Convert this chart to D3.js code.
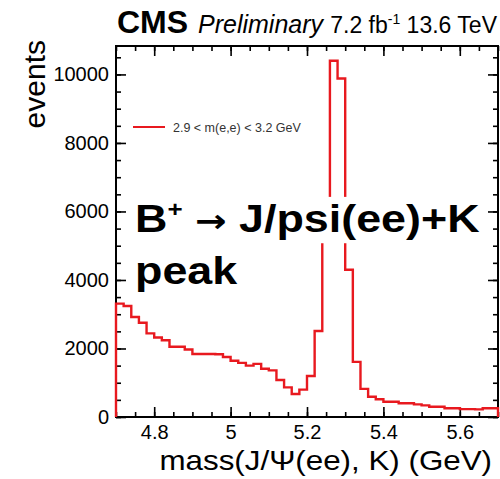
<!DOCTYPE html>
<html><head><meta charset="utf-8">
<script src="https://cdn.jsdelivr.net/npm/d3@7"></script>
<style>
body{margin:0;background:#fff}
svg{display:block}
text{font-family:"Liberation Sans",Arial,Helvetica,sans-serif}
</style>
</head><body>
<svg id="chart" width="500" height="479"></svg>
<script>
// ---- data ----
const binLowEdges = [4.70,4.72,4.74,4.76,4.78,4.80,4.82,4.84,4.86,4.88,
                     4.90,4.92,4.94,4.96,4.98,5.00,5.02,5.04,5.06,5.08,
                     5.10,5.12,5.14,5.16,5.18,5.20,5.22,5.24,5.26,5.28,
                     5.30,5.32,5.34,5.36,5.38,5.40,5.42,5.44,5.46,5.48,
                     5.50,5.52,5.54,5.56,5.58,5.60,5.62,5.64,5.66,5.68];
const binWidth = 0.02;
const counts = [3310,3240,2920,2750,2440,2320,2240,2050,2050,1970,
                1840,1840,1840,1830,1750,1640,1580,1500,1550,1410,
                1360,1080,866,670,800,1195,2510,5600,10400,9880,
                4300,1610,820,590,516,446,446,400,400,370,
                340,300,300,254,254,230,230,224,254,254];
const xTickValues = [4.8,5.0,5.2,5.4,5.6];
const xTickLabels = ["4.8","5","5.2","5.4","5.6"];
const yTickValues = [0,2000,4000,6000,8000,10000];
const yTickLabels = ["0","2000","4000","6000","8000","10000"];
const legendLabel = "2.9 < m(e,e) < 3.2 GeV";
const xTitle = "mass(J/\u03A8(ee), K) (GeV)";
const yTitle = "events";

// ---- layout ----
const L = 116, R = 498, T = 46, B = 417;
const svg = d3.select("#chart");
const x = d3.scaleLinear().domain([4.7, 5.7]).range([L, R]);
const y = d3.scaleLinear().domain([0, 10830]).range([B, T]);
const red = "#e8191f";

// frame
svg.append("rect").attr("x", L).attr("y", T).attr("width", R - L).attr("height", B - T)
  .attr("fill", "none").attr("stroke", "#000").attr("stroke-width", 2);

function styleAxis(g){
  g.select(".domain").remove();
  g.selectAll(".tick line").attr("stroke", "#000").attr("stroke-width", 1.6);
  g.selectAll("text").attr("fill", "#000").style("font-size", "20px")
    .style("font-family", '"Liberation Sans",Arial,sans-serif');
}

const xMinor = x.ticks(20), yMinor = y.ticks(20);
// bottom axis
svg.append("g").attr("transform", `translate(0,${B})`)
  .call(d3.axisBottom(x).tickValues(xMinor).tickSize(-5).tickFormat(""))
  .call(styleAxis);
svg.append("g").attr("transform", `translate(0,${B})`)
  .call(d3.axisBottom(x).tickValues(xTickValues).tickSize(-10).tickPadding(8)
        .tickFormat((d,i) => xTickLabels[i]))
  .call(styleAxis);
// top axis
svg.append("g").attr("transform", `translate(0,${T})`)
  .call(d3.axisTop(x).tickValues(xMinor).tickSize(-5).tickFormat(""))
  .call(styleAxis);
svg.append("g").attr("transform", `translate(0,${T})`)
  .call(d3.axisTop(x).tickValues(xTickValues).tickSize(-10).tickFormat(""))
  .call(styleAxis);
// left axis
svg.append("g").attr("transform", `translate(${L},0)`)
  .call(d3.axisLeft(y).tickValues(yMinor).tickSize(-5).tickFormat(""))
  .call(styleAxis);
svg.append("g").attr("transform", `translate(${L},0)`)
  .call(d3.axisLeft(y).tickValues(yTickValues).tickSize(-10).tickPadding(7)
        .tickFormat((d,i) => yTickLabels[i]))
  .call(styleAxis);
// right axis
svg.append("g").attr("transform", `translate(${R},0)`)
  .call(d3.axisRight(y).tickValues(yMinor).tickSize(-5).tickFormat(""))
  .call(styleAxis);
svg.append("g").attr("transform", `translate(${R},0)`)
  .call(d3.axisRight(y).tickValues(yTickValues).tickSize(-10).tickFormat(""))
  .call(styleAxis);

// histogram outline
const pts = [[binLowEdges[0], 0]];
binLowEdges.forEach((lo, i) => { pts.push([lo, counts[i]]); pts.push([lo + binWidth, counts[i]]); });
pts.push([binLowEdges[binLowEdges.length - 1] + binWidth, 0]);
svg.append("path").datum(pts)
  .attr("d", d3.line().x(d => x(d[0])).y(d => y(d[1])))
  .attr("fill", "none").attr("stroke", red).attr("stroke-width", 2.4)
  .attr("stroke-linejoin", "miter");

// legend
svg.append("line").attr("x1", 133).attr("x2", 165).attr("y1", 127).attr("y2", 127)
  .attr("stroke", red).attr("stroke-width", 2);
svg.append("text").attr("x", 173).attr("y", 131.5).attr("fill", "#333")
  .style("font-size", "12.5px").text(legendLabel);

// header
const hdr = svg.append("text").attr("x", 117).attr("y", 33);
hdr.append("tspan").style("font-weight", "bold").style("font-size", "32px").text("CMS");
svg.append("text").attr("x", 198).attr("y", 33).style("font-style", "italic")
  .style("font-size", "25px").text("Preliminary");
const lumi = svg.append("text").attr("x", 497).attr("y", 33).attr("text-anchor", "end")
  .style("font-size", "23px");
lumi.append("tspan").text("7.2 fb");
lumi.append("tspan").attr("dy", -9).style("font-size", "14px").text("-1");
lumi.append("tspan").attr("dy", 9).text(" 13.6 TeV");

// axis titles
svg.append("text").attr("transform", "translate(45,40) rotate(-90)")
  .attr("text-anchor", "end").style("font-size", "30px").text(yTitle);
svg.append("text").attr("transform", "translate(492,470) scale(1.1,1)")
  .attr("text-anchor", "end").style("font-size", "28.5px").text(xTitle);

// annotation with white background (text drawn horizontally widened as in the reference)
const ann = svg.append("g").attr("transform", "translate(135,0) scale(1.18,1)");
const bg = ann.append("rect").attr("fill", "#fff");
const line1 = ann.append("text").attr("x", 0).attr("y", 232)
  .style("font-weight", "bold").style("font-size", "38px").attr("fill", "#000");
line1.append("tspan").text("B");
line1.append("tspan").attr("dy", -15).style("font-size", "22px").text("+");
line1.append("tspan").attr("dy", 15).text(" ");
line1.append("tspan").style("font-family", '"DejaVu Sans",sans-serif').style("font-size", "32px").text("\u2192");
line1.append("tspan").text(" J/psi(ee)+K");
const bb = line1.node().getBBox();
bg.attr("x", bb.x).attr("y", bb.y).attr("width", bb.width).attr("height", bb.height + 3);
ann.append("text").attr("x", 0).attr("y", 284)
  .style("font-weight", "bold").style("font-size", "38px").attr("fill", "#000").text("peak");
</script>
</body></html>
